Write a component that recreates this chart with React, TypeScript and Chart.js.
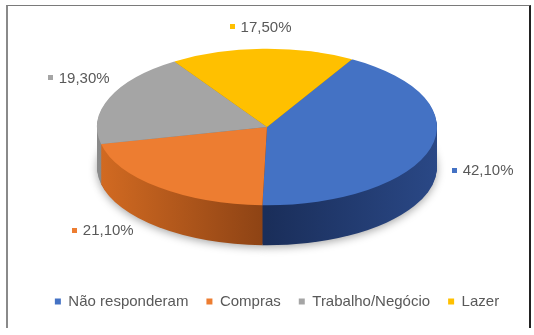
import React, { useEffect, useRef } from 'react';
import { Chart, registerables } from 'chart.js';

Chart.register(...registerables);

// ---- data ----
const categories = ['Não responderam', 'Compras', 'Trabalho/Negócio', 'Lazer'];
const values = [42.1, 21.1, 19.3, 17.5];
const valueLabels = ['42,10%', '21,10%', '19,30%', '17,50%'];

// ---- styles ----
const topColors = ['#4472C4', '#ED7D31', '#A5A5A5', '#FFC000'];
const sideLeft = ['#1a2e5a', '#d36b22', '#8a8a8a', '#c89a00'];
const sideMid = ['#1a2e5a', '#8c4214', '#6e6e6e', '#a87f00'];
const sideRight = ['#2a4886', '#8c4214', '#6e6e6e', '#a87f00'];

// ---- layout ----
const PIE_RADIUS = 170;
const Y_SCALE = 0.46;
const DEPTH = 40;
const ROTATION = 30;
const CANVAS_SHIFT = 22;
const LEGEND_SHIFT = 10;
const labelNudge: [number, number][] = [
  [52, 22],
  [-56, 43],
  [-31, -20],
  [-2, -22],
];
const FONT = '"Liberation Sans", Arial, sans-serif';
const TEXT_COLOR = '#595959';

const pie3d = {
  id: 'pie3d',
  afterLayout(chart: any) {
    if (chart.legend) {
      chart.legend.left += LEGEND_SHIFT;
      chart.legend.right += LEGEND_SHIFT;
    }
  },
  beforeDatasetsDraw(chart: any) {
    const meta = chart.getDatasetMeta(0);
    const arcs = meta.data;
    const ctx = chart.ctx as CanvasRenderingContext2D;
    ctx.save();
    if (!arcs.length) return;
    const { x: cx, y: cy, outerRadius: r } = arcs[0].getProps(['x', 'y', 'outerRadius'], true);
    const grads = arcs.map((_: any, i: number) => {
      const g = ctx.createLinearGradient(cx - r, 0, cx + r, 0);
      g.addColorStop(0, sideLeft[i]);
      g.addColorStop(0.5, sideMid[i]);
      g.addColorStop(1, sideRight[i]);
      return g;
    });
    for (let d = DEPTH; d >= 1; d--) {
      ctx.setTransform(1, 0, 0, Y_SCALE, 0, cy - Y_SCALE * cy + d);
      if (d === DEPTH) {
        ctx.shadowColor = 'rgba(0,0,0,0.35)';
        ctx.shadowBlur = 8;
        ctx.shadowOffsetY = 2;
      } else {
        ctx.shadowColor = 'rgba(0,0,0,0)';
        ctx.shadowBlur = 0;
        ctx.shadowOffsetY = 0;
      }
      arcs.forEach((arc: any, i: number) => {
        const { startAngle, endAngle } = arc.getProps(['startAngle', 'endAngle'], true);
        ctx.beginPath();
        ctx.moveTo(cx, cy);
        ctx.arc(cx, cy, r, startAngle, endAngle);
        ctx.closePath();
        ctx.fillStyle = grads[i];
        ctx.fill();
      });
    }
    ctx.shadowColor = 'rgba(0,0,0,0)';
    ctx.shadowBlur = 0;
    ctx.shadowOffsetY = 0;
    ctx.setTransform(1, 0, 0, Y_SCALE, 0, cy - Y_SCALE * cy);
  },
  afterDatasetsDraw(chart: any) {
    const ctx = chart.ctx as CanvasRenderingContext2D;
    ctx.restore();
    const meta = chart.getDatasetMeta(0);
    ctx.save();
    ctx.font = `15px ${FONT}`;
    ctx.textBaseline = 'middle';
    ctx.textAlign = 'left';
    meta.data.forEach((arc: any, i: number) => {
      const { x, y, startAngle, endAngle, outerRadius } = arc.getProps(
        ['x', 'y', 'startAngle', 'endAngle', 'outerRadius'],
        true
      );
      const mid = (startAngle + endAngle) / 2;
      const ex = x + Math.cos(mid) * outerRadius;
      const ey = y + Math.sin(mid) * outerRadius * Y_SCALE;
      const lx = ex + labelNudge[i][0];
      const ly = ey + labelNudge[i][1];
      const text = valueLabels[i];
      const tw = ctx.measureText(text).width;
      const box = 5;
      const gap = 6;
      const total = box + gap + tw;
      const left = lx - total / 2;
      ctx.fillStyle = topColors[i];
      ctx.fillRect(Math.round(left), Math.round(ly - box / 2), box, box);
      ctx.fillStyle = TEXT_COLOR;
      ctx.fillText(text, left + box + gap, ly + 1);
    });
    ctx.restore();
  },
};

export default function App() {
  const ref = useRef<HTMLCanvasElement | null>(null);
  useEffect(() => {
    if (!ref.current) return;
    Chart.defaults.font.family = FONT;
    const chart = new Chart(ref.current, {
      type: 'pie',
      data: {
        labels: categories,
        datasets: [
          {
            data: values,
            backgroundColor: topColors,
            borderWidth: 0,
            radius: PIE_RADIUS,
            rotation: ROTATION,
            clip: false,
          } as any,
        ],
      },
      options: {
        animation: false,
        responsive: false,
        devicePixelRatio: 1,
        events: [],
        layout: { padding: { top: 0, bottom: 16, left: 0, right: 0 } },
        plugins: {
          tooltip: { enabled: false },
          legend: {
            position: 'bottom',
            labels: {
              color: TEXT_COLOR,
              font: { size: 15, family: FONT },
              boxWidth: 6,
              boxHeight: 6,
              padding: 18,
            },
          },
        },
      },
      plugins: [pie3d],
    });
    return () => chart.destroy();
  }, []);
  return (
    <div style={{ position: 'fixed', left: 0, top: 0, width: 534, height: 335, background: '#fff', overflow: 'hidden' }}>
      <canvas
        ref={ref}
        width={534}
        height={335 + CANVAS_SHIFT}
        style={{ position: 'absolute', left: 0, top: -CANVAS_SHIFT }}
      />
      <div
        style={{
          position: 'absolute',
          left: 6,
          top: 5,
          width: 521,
          height: 322,
          borderLeft: '2px solid #8a8a8a',
          borderTop: '1px solid #7a7a7a',
          borderRight: '2px solid #222',
          pointerEvents: 'none',
        }}
      />
    </div>
  );
}
